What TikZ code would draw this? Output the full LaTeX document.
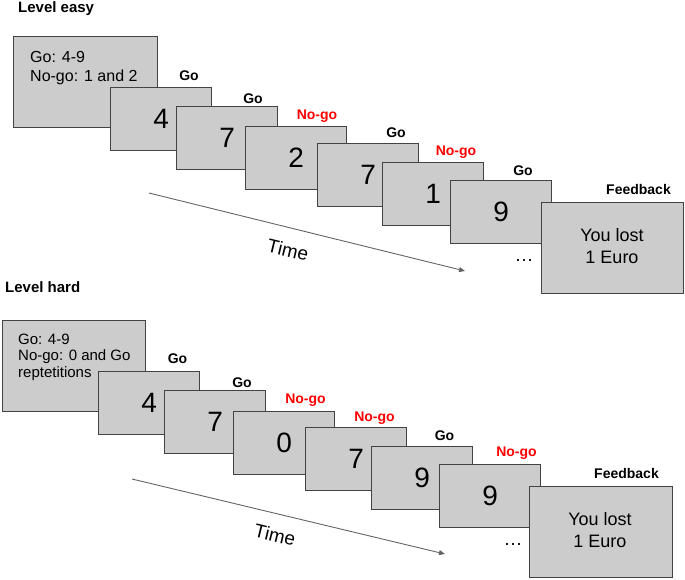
\documentclass[tikz,border=0pt]{standalone}
\usepackage{fontspec}
\setmainfont{Liberation Sans}
\usetikzlibrary{arrows.meta}
\definecolor{boxfill}{RGB}{204,204,204}
\definecolor{boxline}{RGB}{67,67,67}
\definecolor{arrowgray}{RGB}{100,100,100}
\definecolor{nogored}{RGB}{255,0,0}
\tikzset{
  stim/.style={draw=boxline, line width=1.2pt, fill=boxfill, anchor=north west,
    inner sep=0pt, minimum width=101pt, minimum height=63pt,
    font=\fontsize{28}{30}\selectfont},
  bigbox/.style={draw=boxline, line width=1.2pt, fill=boxfill, anchor=north west,
    inner sep=0pt, minimum width=143pt, minimum height=91pt},
  instr/.style={anchor=base west, inner sep=0pt, font=\fontsize{16}{19}\selectfont},
  instrs/.style={anchor=base west, inner sep=0pt, font=\fontsize{15}{17}\selectfont},
  golab/.style={anchor=base, inner sep=0pt, font=\bfseries\fontsize{14}{16}\selectfont},
  nogolab/.style={golab, text=nogored},
  title/.style={anchor=base west, inner sep=0pt, font=\bfseries\fontsize{15}{17}\selectfont},
  fbtext/.style={anchor=base, inner sep=0pt, font=\fontsize{18}{21}\selectfont},
  dots/.style={anchor=base, inner sep=0pt, font=\fontsize{19}{21}\selectfont},
  timelab/.style={inner sep=0pt, rotate=-13.5, font=\fontsize{19}{21}\selectfont},
  timearrow/.style={draw=arrowgray, line width=0.9pt, -{Triangle[length=6pt,width=5pt]}}
}
\begin{document}
\begin{tikzpicture}[x=1pt,y=-1pt]
\useasboundingbox (0,0) rectangle (685,579);

% ---------- Level easy ----------
\node[title] (t1) at (18,12.7) {Level easy};
\node[bigbox, minimum width=144pt] (e0) at (13,36) {};
\node[instr] (e0a) at (30,62) {Go: 4-9};
\node[instr] (e0b) at (30,81) {No-go: 1 and 2};

\node[stim] (e1) at (110,87) {4};
\node[golab] (l1) at (189,80) {Go};
\node[stim] (e2) at (176,106) {7};
\node[golab] (l2) at (253,103) {Go};
\node[stim] (e3) at (245,126) {2};
\node[nogolab] (l3) at (317,119.5) {No-go};
\node[stim] (e4) at (317,143) {7};
\node[golab] (l4) at (396,137.5) {Go};
\node[stim] (e5) at (382,162) {1};
\node[nogolab] (l5) at (456,155.5) {No-go};
\node[stim] (e6) at (450,180) {9};
\node[golab] (l6) at (523,175.5) {Go};
\node[bigbox, minimum width=142pt] (e7) at (541,202) {};
\node[golab] (l7) at (638.5,194) {Feedback};
\node[fbtext] (e7a) at (612,241.5) {You lost};
\node[fbtext] (e7b) at (612,263) {1 Euro};
\node[dots] (ed) at (524,261.5) {…};

\coordinate (ta1) at (149,193);
\coordinate (ta2) at (465,271);
\draw[timearrow] (ta1) -- (ta2);
\node[timelab] (time1) at (288,250) {Time};

% ---------- Level hard ----------
\node[title] (t2) at (5,292.5) {Level hard};
\node[bigbox] (h0) at (2,320) {};
\node[instrs] (h0a) at (18,344) {Go: 4-9};
\node[instrs] (h0b) at (18,360.5) {No-go: 0 and Go};
\node[instrs] (h0c) at (18,377) {reptetitions};

\node[stim] (h1) at (98,371) {4};
\node[golab] (m1) at (177.5,363) {Go};
\node[stim] (h2) at (164,390) {7};
\node[golab] (m2) at (242,387) {Go};
\node[stim] (h3) at (233,411) {0};
\node[nogolab] (m3) at (305.5,403) {No-go};
\node[stim] (h4) at (305,427) {7};
\node[nogolab] (m4) at (374.5,421.5) {No-go};
\node[stim] (h5) at (371,446) {9};
\node[golab] (m5) at (444.5,440.5) {Go};
\node[stim] (h6) at (439,464) {9};
\node[nogolab] (m6) at (516.5,456) {No-go};
\node[bigbox] (h7) at (529,486) {};
\node[golab] (m7) at (626.5,478) {Feedback};
\node[fbtext] (h7a) at (600,525.5) {You lost};
\node[fbtext] (h7b) at (600,547.5) {1 Euro};
\node[dots] (hd) at (513,545.5) {…};

\coordinate (tb1) at (132,479);
\coordinate (tb2) at (445,554);
\draw[timearrow] (tb1) -- (tb2);
\node[timelab] (time2) at (275,535) {Time};
\end{tikzpicture}
\end{document}
